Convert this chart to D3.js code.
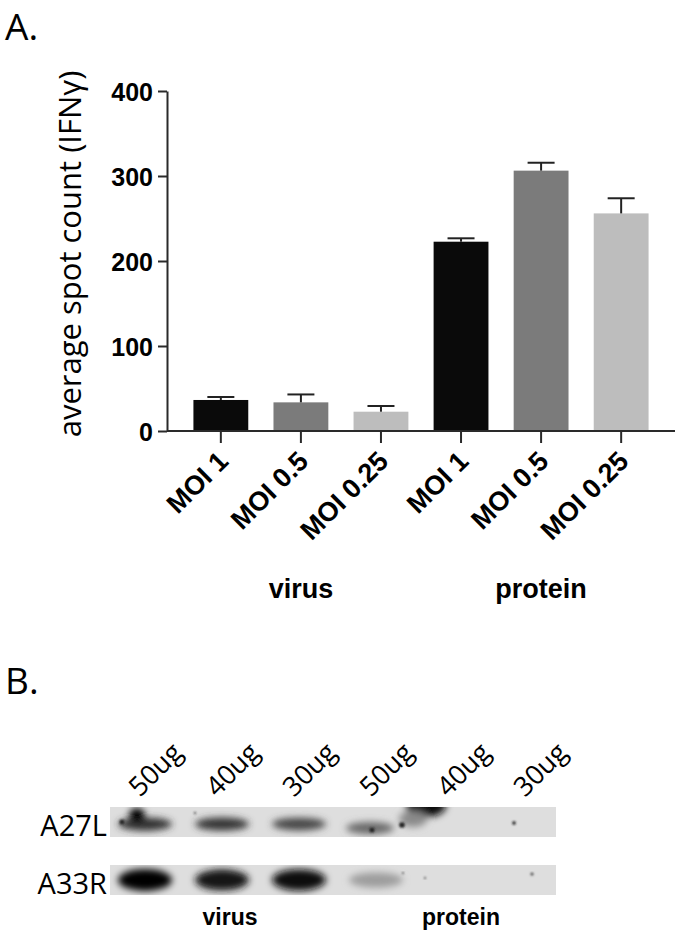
<!DOCTYPE html>
<meta charset="utf-8">
<style>
    body {
        margin: 0;
        background-color: #fff;
    }

    .tick-label {
        font: 700 25px "Liberation Sans", Arial, sans-serif;
        fill: #000;
    }

    .x-label {
        font: 700 27px "Liberation Sans", Arial, sans-serif;
        fill: #000;
    }

    .group-label {
        font: 700 27px "Liberation Sans", Arial, sans-serif;
        fill: #000;
    }

    .panel-label {
        font: 400 37px "Open Sans", sans-serif;
        fill: #000;
    }

    .axis path,
    .axis line {
        stroke: #2a2a2a;
        stroke-width: 2px;
    }
</style>

<body>
    <script src="https://d3js.org/d3.v7.min.js"></script>
    <script>

        // panel A data
        var groups = ["virus", "protein"];
        var mois = ["MOI 1", "MOI 0.5", "MOI 0.25"];
        var virusMeans = [36.5, 33.7, 22.7];
        var virusErr = [3.5, 9.3, 6.7];
        var proteinMeans = [222.7, 306.3, 256];
        var proteinErr = [4, 9.3, 17.8];
        var yTicks = [0, 100, 200, 300, 400];

        // panel B data (band darkness 0..1)
        var blotRows = ["A27L", "A33R"];
        var blotLanes = ["50ug", "40ug", "30ug", "50ug", "40ug", "30ug"];
        var a27l = [0.8, 0.78, 0.7, 0.55, 0, 0];
        var a33r = [1.0, 0.92, 0.96, 0.3, 0, 0];

        var width = 681, height = 935;

        var svg = d3.select("body").append("svg")
            .attr("width", width)
            .attr("height", height);

        svg.append("text").attr("class", "panel-label")
            .attr("x", 5).attr("y", 40).text("A.");

        // build rows for the bars
        var rows = [];
        groups.forEach(function (g, gi) {
            var means = gi === 0 ? virusMeans : proteinMeans;
            var errs = gi === 0 ? virusErr : proteinErr;
            mois.forEach(function (m, i) {
                rows.push({ id: g + i, group: g, moi: m, idx: i, mean: means[i], err: errs[i] });
            });
        });

        var fills = ["#0a0a0a", "#7b7b7b", "#bdbdbd"];

        var x = d3.scaleBand()
            .domain(rows.map(function (d) { return d.id; }))
            .range([167, 675])
            .paddingInner(0.315)
            .paddingOuter(0.33);

        var y = d3.scaleLinear()
            .domain([0, 400])
            .range([431, 91]);

        var chart = svg.append("g");

        chart.selectAll(".bar")
            .data(rows)
            .enter().append("rect")
            .attr("class", "bar")
            .attr("x", function (d) { return x(d.id); })
            .attr("width", x.bandwidth())
            .attr("y", function (d) { return y(d.mean); })
            .attr("height", function (d) { return y(0) - y(d.mean); })
            .attr("fill", function (d) { return fills[d.idx]; });

        var err = chart.selectAll(".err")
            .data(rows)
            .enter().append("g")
            .attr("class", "err")
            .attr("stroke", "#222")
            .attr("stroke-width", 2);

        err.append("line")
            .attr("x1", function (d) { return x(d.id) + x.bandwidth() / 2; })
            .attr("x2", function (d) { return x(d.id) + x.bandwidth() / 2; })
            .attr("y1", function (d) { return y(d.mean); })
            .attr("y2", function (d) { return y(d.mean + d.err); });

        err.append("line")
            .attr("x1", function (d) { return x(d.id) + x.bandwidth() / 2 - 13.5; })
            .attr("x2", function (d) { return x(d.id) + x.bandwidth() / 2 + 13.5; })
            .attr("y1", function (d) { return y(d.mean + d.err); })
            .attr("y2", function (d) { return y(d.mean + d.err); });

        // y axis
        var yAxis = chart.append("g")
            .attr("class", "axis")
            .attr("transform", "translate(167,0)")
            .call(d3.axisLeft(y).tickValues(yTicks).tickSize(9).tickSizeOuter(0).tickPadding(5));
        yAxis.selectAll("text")
            .attr("class", "tick-label")
            .attr("dy", "0.36em");

        // x axis
        var xAxis = chart.append("g")
            .attr("class", "axis")
            .attr("transform", "translate(0,431)")
            .call(d3.axisBottom(x).tickSize(12).tickSizeOuter(0)
                .tickFormat(function (id) { return rows.find(function (r) { return r.id === id; }).moi; }));
        xAxis.select(".domain").attr("d", "M167,0H675");
        xAxis.selectAll("text")
            .attr("class", "x-label")
            .attr("text-anchor", "end")
            .attr("y", 0).attr("dy", 0)
            .attr("transform", "translate(9,32) rotate(-45)");

        chart.selectAll(".group-label")
            .data(groups)
            .enter().append("text")
            .attr("class", "group-label")
            .attr("text-anchor", "middle")
            .attr("x", function (g) { return x(g + 1) + x.bandwidth() / 2; })
            .attr("y", 598)
            .text(function (g) { return g; });

        svg.append("text")
            .attr("transform", "translate(81,254) rotate(-90)")
            .attr("text-anchor", "middle")
            .style("font", "400 31px 'Open Sans', sans-serif")
            .text("average spot count (IFNγ)");

        // ---- panel B: blot ----
        svg.append("text").attr("class", "panel-label")
            .attr("x", 5).attr("y", 694).text("B.");

        var laneIds = blotLanes.map(function (d, i) { return "l" + i; });

        var lane = d3.scalePoint()
            .domain(laneIds)
            .range([137, 522]);

        var rowY = d3.scaleBand()
            .domain(blotRows)
            .range([807, 895])
            .paddingInner(0.48);

        var shade = d3.scaleLinear()
            .domain([0, 1])
            .range(["#dedede", "#050505"]);

        var defs = svg.append("defs");
        defs.append("filter").attr("id", "blur")
            .attr("x", "-50%").attr("y", "-80%").attr("width", "200%").attr("height", "260%")
            .append("feGaussianBlur").attr("stdDeviation", 3.5);
        defs.append("filter").attr("id", "blur-small")
            .append("feGaussianBlur").attr("stdDeviation", 0.8);

        var blot = svg.append("g");

        blotRows.forEach(function (r, ri) {
            var vals = ri === 0 ? a27l : a33r;
            var top = rowY(r), h = rowY.bandwidth();

            defs.append("clipPath").attr("id", "clip" + r)
                .append("rect").attr("x", 110).attr("y", top).attr("width", 446).attr("height", h);

            var strip = blot.append("g").attr("clip-path", "url(#clip" + r + ")");
            strip.append("rect")
                .attr("x", 110).attr("y", top).attr("width", 446).attr("height", h)
                .attr("fill", "#dedede");

            var bands = strip.append("g").attr("filter", "url(#blur)");
            bands.selectAll("ellipse")
                .data(vals.map(function (v, i) { return { lane: laneIds[i], v: v, i: i }; })
                    .filter(function (d) { return d.v > 0; }))
                .enter().append("ellipse")
                .attr("cx", function (d) { return lane(d.lane) + (d.i === 3 && ri === 0 ? 2 : 8); })
                .attr("cy", function (d) { return top + h / 2 + (ri === 0 ? (d.i === 3 ? 6 : 2) : 0); })
                .attr("rx", function (d) { return d.i === 3 && ri === 0 ? 24 : 27; })
                .attr("ry", function (d) { return ri === 0 ? 5 + 2 * d.v : 6 + 5 * d.v; })
                .attr("fill", function (d) { return shade(d.v); });

            // smudges seen on the membrane
            if (ri === 0) {
                bands.append("ellipse")
                    .attr("cx", lane("l0")).attr("cy", top + 8).attr("rx", 8).attr("ry", 7)
                    .attr("fill", "#000");
                bands.append("ellipse")
                    .attr("cx", lane("l3") + 58).attr("cy", top - 1).attr("rx", 20).attr("ry", 11)
                    .attr("fill", "#111");
                bands.append("ellipse")
                    .attr("cx", lane("l3") + 45).attr("cy", top + 12).attr("rx", 14).attr("ry", 8)
                    .attr("fill", "#8a8a8a");
                var specks = strip.append("g").attr("filter", "url(#blur-small)");
                [[lane("l0") - 15, top + 15, 2.5], [lane("l3") + 4, top + 23, 2.5],
                 [lane("l3") + 34, top + 18, 2.8], [lane("l5") - 8, top + 16, 1.8],
                 [lane("l0") + 58, top + 6, 1]].forEach(function (s) {
                    specks.append("circle").attr("cx", s[0]).attr("cy", s[1]).attr("r", s[2]).attr("fill", "#222");
                });
            } else {
                var specks2 = strip.append("g").attr("filter", "url(#blur-small)");
                [[lane("l5") + 10, top + 9, 1.5], [lane("l4") - 20, top + 13, 1],
                 [lane("l3") + 35, top + 8, 1]].forEach(function (s) {
                    specks2.append("circle").attr("cx", s[0]).attr("cy", s[1]).attr("r", s[2]).attr("fill", "#444");
                });
            }

            svg.append("text")
                .attr("x", 107).attr("y", top + h - 1)
                .attr("text-anchor", "end")
                .style("font", "400 29px 'Open Sans', sans-serif")
                .text(r);
        });

        svg.selectAll(".lane-label")
            .data(laneIds)
            .enter().append("text")
            .attr("class", "lane-label")
            .attr("transform", function (d) { return "translate(" + (lane(d) + 3) + ",798) rotate(-45)"; })
            .style("font", "400 27px 'Open Sans', sans-serif")
            .text(function (d, i) { return blotLanes[i]; });

        svg.selectAll(".blot-group")
            .data(groups)
            .enter().append("text")
            .attr("class", "blot-group")
            .attr("text-anchor", "middle")
            .attr("x", function (g, i) { return i === 0 ? 230 : 461; })
            .attr("y", 925)
            .style("font", "700 23px 'Liberation Sans', Arial, sans-serif")
            .text(function (g) { return g; });

    </script>
</body>
